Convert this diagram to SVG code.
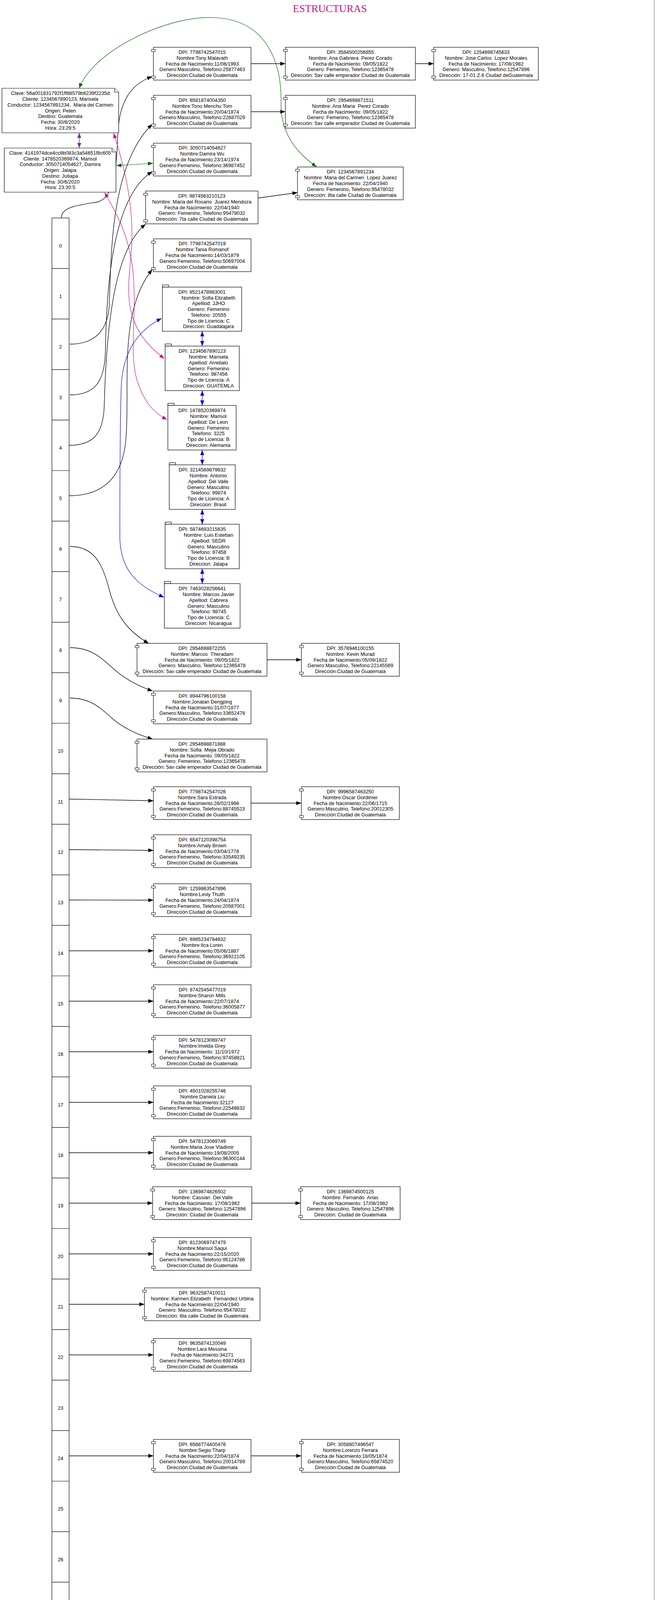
<svg xmlns="http://www.w3.org/2000/svg" width="1683" height="5350" viewBox="0 0 1683 5350">
<style>
.b{fill:#fff;stroke:#000;stroke-width:1.2}
.p{fill:#fff;stroke:#000;stroke-width:1}
.t{font-family:"Liberation Sans",Arial,sans-serif;font-size:12.8px;text-anchor:middle;fill:#000}
.ix{font-family:"Liberation Sans",Arial,sans-serif;font-size:12.8px;text-anchor:middle;fill:#000}
.e{fill:none;stroke:#000;stroke-width:1.3}
.ek{fill:none;stroke:#000;stroke-width:1.3;marker-end:url(#ak)}
.eb{fill:none;stroke:#0000cd;stroke-width:1.2;marker-start:url(#ab);marker-end:url(#ab)}
.ep{fill:none;stroke:#c71585;stroke-width:1.2;marker-start:url(#ap);marker-end:url(#ap)}
.eg{fill:none;stroke:#006400;stroke-width:1.2;marker-start:url(#ag);marker-end:url(#ag)}
.ev{fill:none;stroke:#7030a0;stroke-width:1.4;marker-start:url(#av);marker-end:url(#av)}
.sep{stroke:#000;stroke-width:1.2}
</style>
<defs>
<marker id="ak" viewBox="0 0 13 10" refX="13" refY="5" markerWidth="13" markerHeight="10" markerUnits="userSpaceOnUse" orient="auto-start-reverse"><path d="M0,0L13,5L0,10Z" fill="#000"/></marker>
<marker id="ab" viewBox="0 0 13 10" refX="13" refY="5" markerWidth="13" markerHeight="10" markerUnits="userSpaceOnUse" orient="auto-start-reverse"><path d="M0,0L13,5L0,10Z" fill="#0000cd"/></marker>
<marker id="ap" viewBox="0 0 13 10" refX="13" refY="5" markerWidth="13" markerHeight="10" markerUnits="userSpaceOnUse" orient="auto-start-reverse"><path d="M0,0L13,5L0,10Z" fill="#c71585"/></marker>
<marker id="ag" viewBox="0 0 13 10" refX="13" refY="5" markerWidth="13" markerHeight="10" markerUnits="userSpaceOnUse" orient="auto-start-reverse"><path d="M0,0L13,5L0,10Z" fill="#006400"/></marker>
<marker id="av" viewBox="0 0 13 10" refX="13" refY="5" markerWidth="13" markerHeight="10" markerUnits="userSpaceOnUse" orient="auto-start-reverse"><path d="M0,0L13,5L0,10Z" fill="#7030a0"/></marker>
</defs>
<rect x="0" y="0" width="1683" height="5350" fill="#fff"/>
<line x1="1676" y1="0" x2="1676" y2="5350" stroke="#555" stroke-width="1"/>
<text x="845" y="31" font-family="Liberation Serif, Times New Roman, serif" font-size="26.7" fill="#c71585" text-anchor="middle">ESTRUCTURAS</text>

<g id="edges">
<path class="ek" d="M643,163 L731,163"/>
<path class="ek" d="M1064,163 L1111,163"/>
<path class="ek" d="M643,286 L731,286"/>
<path class="ek" d="M661,507 L762,493"/>
<path class="ek" d="M684,1689 L772,1689"/>
<path class="ek" d="M643,2056 L772,2056"/>
<path class="ek" d="M645,3080 L770,3080"/>
<path class="ek" d="M643,3727 L772,3727"/>
<path class="ek" d="M642,4503 L772,4503"/>
<path class="ek" d="M1023,4503 L1119,4503"/>
<path class="ek" d="M1371,4503 L1426,4503"/>
<path class="ek" d="M157,558 C157,530 200,525 245,518 C295,510 298,430 302,340 C306,260 335,215 390,196"/>
<path class="ek" d="M179,881 C240,881 276,850 280,780 C285,640 285,420 390,318"/>
<path class="ek" d="M179,1011 C245,1011 268,975 270,900 C273,700 295,500 390,439"/>
<path class="ek" d="M177,1140 C240,1140 264,1110 267,1040 C272,850 290,640 373,574"/>
<path class="ek" d="M177,1269 C262,1269 312,1225 322,1130 C335,1000 300,800 390,690"/>
<path class="ek" d="M179,1399 C240,1399 262,1440 280,1510 C296,1572 325,1615 381,1647"/>
<path class="ek" d="M179,1658 C230,1658 255,1680 285,1707 C315,1735 350,1755 391,1769"/>
<path class="ek" d="M179,1787 C230,1787 255,1810 285,1837 C315,1864 350,1880 391,1892"/>
<path class="ek" d="M177,2045.5 L393,2050"/>
<path class="ek" d="M177,2175 L393,2177"/>
<path class="ek" d="M177,2304 L393,2304.5"/>
<path class="ek" d="M177,2434 L393,2434"/>
<path class="ek" d="M177,2563 L393,2563"/>
<path class="ek" d="M177,2692.5 L393,2692.5"/>
<path class="ek" d="M177,2822 L393,2822"/>
<path class="ek" d="M177,2951 L393,2951"/>
<path class="ek" d="M177,3080 L391,3080"/>
<path class="ek" d="M177,3210 L393,3210"/>
<path class="ek" d="M177,3339 L370,3339"/>
<path class="ek" d="M177,3468.5 L393,3468.5"/>
<path class="ek" d="M177,3727 L393,3727"/>
<path class="ek" d="M177,4244.5 L393,4244"/>
<path class="ek" d="M177,4503 L392,4503"/>
<path class="ek" d="M177,4633 L393,4633"/>
<path class="ek" d="M177,4762 L393,4762"/>
<path class="ek" d="M177,5150 L393,5150"/>
<path class="eg" d="M203,226 C235,135 420,40 547,45 C690,50 722,170 720,265 C718,345 765,395 811,427"/>
<path class="eg" d="M298,424 L392,418"/>
<path class="ev" d="M203,340 L203,379"/>
<path class="ep" d="M291,341 C330,460 345,560 335,660 C325,760 318,840 421,918"/>
<path class="ep" d="M268,493 C295,540 330,600 340,690 C352,800 330,900 350,970 C368,1030 395,1058 428,1074"/>
<path class="eb" d="M414,815 C360,842 318,890 311,980 C308,1050 307,1200 307,1380 C310,1450 340,1495 420,1529"/>
<path class="eb" d="M518,848 L518,886"/>
<path class="eb" d="M518,1000 L518,1038"/>
<path class="eb" d="M518,1152 L518,1190"/>
<path class="eb" d="M518,1304 L518,1342"/>
<path class="eb" d="M518,1456 L518,1494"/>
</g>

<g id="tabla">
<rect class="b" x="133" y="558" width="44" height="5286"/>
<line class="sep" x1="133" y1="687.35" x2="177" y2="687.35"/>
<line class="sep" x1="133" y1="816.7" x2="177" y2="816.7"/>
<line class="sep" x1="133" y1="946.05" x2="177" y2="946.05"/>
<line class="sep" x1="133" y1="1075.4" x2="177" y2="1075.4"/>
<line class="sep" x1="133" y1="1204.75" x2="177" y2="1204.75"/>
<line class="sep" x1="133" y1="1334.1" x2="177" y2="1334.1"/>
<line class="sep" x1="133" y1="1463.45" x2="177" y2="1463.45"/>
<line class="sep" x1="133" y1="1592.8" x2="177" y2="1592.8"/>
<line class="sep" x1="133" y1="1722.15" x2="177" y2="1722.15"/>
<line class="sep" x1="133" y1="1851.5" x2="177" y2="1851.5"/>
<line class="sep" x1="133" y1="1980.85" x2="177" y2="1980.85"/>
<line class="sep" x1="133" y1="2110.2" x2="177" y2="2110.2"/>
<line class="sep" x1="133" y1="2239.55" x2="177" y2="2239.55"/>
<line class="sep" x1="133" y1="2368.9" x2="177" y2="2368.9"/>
<line class="sep" x1="133" y1="2498.25" x2="177" y2="2498.25"/>
<line class="sep" x1="133" y1="2627.6" x2="177" y2="2627.6"/>
<line class="sep" x1="133" y1="2756.95" x2="177" y2="2756.95"/>
<line class="sep" x1="133" y1="2886.3" x2="177" y2="2886.3"/>
<line class="sep" x1="133" y1="3015.65" x2="177" y2="3015.65"/>
<line class="sep" x1="133" y1="3145" x2="177" y2="3145"/>
<line class="sep" x1="133" y1="3274.35" x2="177" y2="3274.35"/>
<line class="sep" x1="133" y1="3403.7" x2="177" y2="3403.7"/>
<line class="sep" x1="133" y1="3533.05" x2="177" y2="3533.05"/>
<line class="sep" x1="133" y1="3662.4" x2="177" y2="3662.4"/>
<line class="sep" x1="133" y1="3791.75" x2="177" y2="3791.75"/>
<line class="sep" x1="133" y1="3921.1" x2="177" y2="3921.1"/>
<line class="sep" x1="133" y1="4050.45" x2="177" y2="4050.45"/>
<line class="sep" x1="133" y1="4179.8" x2="177" y2="4179.8"/>
<line class="sep" x1="133" y1="4309.15" x2="177" y2="4309.15"/>
<line class="sep" x1="133" y1="4438.5" x2="177" y2="4438.5"/>
<line class="sep" x1="133" y1="4567.85" x2="177" y2="4567.85"/>
<line class="sep" x1="133" y1="4697.2" x2="177" y2="4697.2"/>
<line class="sep" x1="133" y1="4826.55" x2="177" y2="4826.55"/>
<line class="sep" x1="133" y1="4955.9" x2="177" y2="4955.9"/>
<line class="sep" x1="133" y1="5085.25" x2="177" y2="5085.25"/>
<line class="sep" x1="133" y1="5214.6" x2="177" y2="5214.6"/>
<text class="ix" x="155" y="633.7">0</text>
<text class="ix" x="155" y="763.0">1</text>
<text class="ix" x="155" y="892.4">2</text>
<text class="ix" x="155" y="1021.7">3</text>
<text class="ix" x="155" y="1151.1">4</text>
<text class="ix" x="155" y="1280.4">5</text>
<text class="ix" x="155" y="1409.8">6</text>
<text class="ix" x="155" y="1539.1">7</text>
<text class="ix" x="155" y="1668.5">8</text>
<text class="ix" x="155" y="1797.8">9</text>
<text class="ix" x="155" y="1927.2">10</text>
<text class="ix" x="155" y="2056.5">11</text>
<text class="ix" x="155" y="2185.9">12</text>
<text class="ix" x="155" y="2315.2">13</text>
<text class="ix" x="155" y="2444.6">14</text>
<text class="ix" x="155" y="2573.9">15</text>
<text class="ix" x="155" y="2703.3">16</text>
<text class="ix" x="155" y="2832.6">17</text>
<text class="ix" x="155" y="2962.0">18</text>
<text class="ix" x="155" y="3091.3">19</text>
<text class="ix" x="155" y="3220.7">20</text>
<text class="ix" x="155" y="3350.0">21</text>
<text class="ix" x="155" y="3479.4">22</text>
<text class="ix" x="155" y="3608.7">23</text>
<text class="ix" x="155" y="3738.1">24</text>
<text class="ix" x="155" y="3867.4">25</text>
<text class="ix" x="155" y="3996.8">26</text>
<text class="ix" x="155" y="4126.1">27</text>
<text class="ix" x="155" y="4255.5">28</text>
<text class="ix" x="155" y="4384.8">29</text>
<text class="ix" x="155" y="4514.2">30</text>
<text class="ix" x="155" y="4643.5">31</text>
<text class="ix" x="155" y="4772.9">32</text>
<text class="ix" x="155" y="4902.2">33</text>
<text class="ix" x="155" y="5031.6">34</text>
<text class="ix" x="155" y="5160.9">35</text>
<text class="ix" x="155" y="5290.3">36</text>
</g>

<g id="clave1"><path class="b" d="M5,226 L294,226 L304,236 L304,340 L5,340 Z"/><path class="b" d="M294,226 L294,236 L304,236"/><text class="t" xml:space="preserve" y="243.35"><tspan x="154.5">Clave: 56a001831792f1ff88579b6239f2235d</tspan><tspan x="154.5" dy="14.75">Cliente: 1234567890123, Marisela</tspan><tspan x="154.5" dy="14.75">Conductor: 1234567891234,  Maria del Carmen</tspan><tspan x="154.5" dy="14.75">Origen: Peten</tspan><tspan x="154.5" dy="14.75">Destino: Guatemala</tspan><tspan x="154.5" dy="14.75">Fecha: 30/6/2020</tspan><tspan x="154.5" dy="14.75">Hora: 23:29:5</tspan></text></g>
<g id="clave2"><path class="b" d="M11,379 L287,379 L297,389 L297,492 L11,492 Z"/><path class="b" d="M287,379 L287,389 L297,389"/><text class="t" xml:space="preserve" y="395.85"><tspan x="154">Clave: 4141974dce4cc8b083c3a54651f8c605</tspan><tspan x="154" dy="14.75">Cliente: 1478520369874, Marisol</tspan><tspan x="154" dy="14.75">Conductor: 3050714054627, Damira</tspan><tspan x="154" dy="14.75">Origen: Jalapa</tspan><tspan x="154" dy="14.75">Destino: Jutiapa</tspan><tspan x="154" dy="14.75">Fecha: 30/6/2020</tspan><tspan x="154" dy="14.75">Hora: 23:30:5</tspan></text></g>

<g id="n_tony"><rect class="b" x="393" y="121" width="250" height="84"/><rect class="p" x="388" y="126.7" width="10" height="5.3"/><rect class="p" x="388" y="194.7" width="10" height="5.3"/><text class="t" xml:space="preserve" y="137.9"><tspan x="518">DPI: 7798742547015</tspan><tspan x="518" dy="14.85">Nombre:Tony Malavath</tspan><tspan x="518" dy="14.85">Fecha de Nacimiento:11/06/1993</tspan><tspan x="518" dy="14.85">Genero:Masculino, Telefono:25877463</tspan><tspan x="518" dy="14.85">Dirección:Ciudad de Guatemala</tspan></text></g>
<g id="n_anagab"><rect class="b" x="731" y="121" width="333" height="84"/><rect class="p" x="726" y="126.7" width="10" height="5.3"/><rect class="p" x="726" y="194.7" width="10" height="5.3"/><text class="t" xml:space="preserve" y="137.9"><tspan x="897.5">DPI: 3584500256855</tspan><tspan x="897.5" dy="14.85">Nombre: Ana Gabriera  Perez Corado</tspan><tspan x="897.5" dy="14.85">Fecha de Nacimiento: 09/05/1822</tspan><tspan x="897.5" dy="14.85">Genero: Femenino, Telefono:12365478</tspan><tspan x="897.5" dy="14.85">Dirección: 5av calle emperador Ciudad de Guatemala</tspan></text></g>
<g id="n_josecarlos"><rect class="b" x="1111" y="121" width="268" height="84"/><rect class="p" x="1106" y="126.7" width="10" height="5.3"/><rect class="p" x="1106" y="194.7" width="10" height="5.3"/><text class="t" xml:space="preserve" y="137.9"><tspan x="1245">DPI: 1254698745633</tspan><tspan x="1245" dy="14.85">Nombre: Jose Carlos  Lopez Morales</tspan><tspan x="1245" dy="14.85">Fecha de Nacimiento: 17/08/1982</tspan><tspan x="1245" dy="14.85">Genero: Masculino, Telefono:12547896</tspan><tspan x="1245" dy="14.85">Dirección: 17-01 Z.6 Ciudad deGuatemala</tspan></text></g>
<g id="n_tono"><rect class="b" x="393" y="244" width="250" height="84"/><rect class="p" x="388" y="249.7" width="10" height="5.3"/><rect class="p" x="388" y="317.7" width="10" height="5.3"/><text class="t" xml:space="preserve" y="260.9"><tspan x="518">DPI: 6581874004350</tspan><tspan x="518" dy="14.85">Nombre:Tono Menchu Tom</tspan><tspan x="518" dy="14.85">Fecha de Nacimiento:20/04/1874</tspan><tspan x="518" dy="14.85">Genero:Masculino, Telefono:22887029</tspan><tspan x="518" dy="14.85">Dirección:Ciudad de Guatemala</tspan></text></g>
<g id="n_anamaria"><rect class="b" x="731" y="244" width="333" height="84"/><rect class="p" x="726" y="249.7" width="10" height="5.3"/><rect class="p" x="726" y="317.7" width="10" height="5.3"/><text class="t" xml:space="preserve" y="260.9"><tspan x="897.5">DPI: 2954698871511</tspan><tspan x="897.5" dy="14.85">Nombre: Ana Maria  Perez Corado</tspan><tspan x="897.5" dy="14.85">Fecha de Nacimiento: 09/05/1822</tspan><tspan x="897.5" dy="14.85">Genero: Femenino, Telefono:12365478</tspan><tspan x="897.5" dy="14.85">Dirección: 5av calle emperador Ciudad de Guatemala</tspan></text></g>
<g id="n_damira"><rect class="b" x="393" y="366.5" width="250" height="84"/><rect class="p" x="388" y="372.2" width="10" height="5.3"/><rect class="p" x="388" y="440.2" width="10" height="5.3"/><text class="t" xml:space="preserve" y="383.4"><tspan x="518">DPI: 3050714054627</tspan><tspan x="518" dy="14.85">Nombre:Damira Wu</tspan><tspan x="518" dy="14.85">Fecha de Nacimiento:23/14/1974</tspan><tspan x="518" dy="14.85">Genero:Femenino, Telefono:36987452</tspan><tspan x="518" dy="14.85">Dirección:Ciudad de Guatemala</tspan></text></g>
<g id="n_mcarmen"><rect class="b" x="762" y="427.5" width="271" height="84"/><rect class="p" x="757" y="433.2" width="10" height="5.3"/><rect class="p" x="757" y="501.2" width="10" height="5.3"/><text class="t" xml:space="preserve" y="444.4"><tspan x="897.5">DPI: 1234567891234</tspan><tspan x="897.5" dy="14.85">Nombre: Maria del Carmen  Lopez Juarez</tspan><tspan x="897.5" dy="14.85">Fecha de Nacimiento: 22/04/1940</tspan><tspan x="897.5" dy="14.85">Genero: Femenino, Telefono:95478032</tspan><tspan x="897.5" dy="14.85">Dirección: 8ta calle Ciudad de Guatemala</tspan></text></g>
<g id="n_rosario"><rect class="b" x="373" y="489" width="288" height="84"/><rect class="p" x="368" y="494.7" width="10" height="5.3"/><rect class="p" x="368" y="562.7" width="10" height="5.3"/><text class="t" xml:space="preserve" y="505.9"><tspan x="517">DPI: 9874563210123</tspan><tspan x="517" dy="14.85">Nombre: Maria del Rosario  Juarez Mendoza</tspan><tspan x="517" dy="14.85">Fecha de Nacimiento: 22/04/1940</tspan><tspan x="517" dy="14.85">Genero: Femenino, Telefono:95478032</tspan><tspan x="517" dy="14.85">Dirección: 7ta calle Ciudad de Guatemala</tspan></text></g>
<g id="n_tania"><rect class="b" x="393" y="611.5" width="250" height="84"/><rect class="p" x="388" y="617.2" width="10" height="5.3"/><rect class="p" x="388" y="685.2" width="10" height="5.3"/><text class="t" xml:space="preserve" y="628.4"><tspan x="518">DPI: 7798742547019</tspan><tspan x="518" dy="14.85">Nombre:Tania Romanof</tspan><tspan x="518" dy="14.85">Fecha de Nacimiento:14/03/1879</tspan><tspan x="518" dy="14.85">Genero:Femenino, Telefono:50697004</tspan><tspan x="518" dy="14.85">Dirección:Ciudad de Guatemala</tspan></text></g>

<g id="c_sofia"><rect class="b" x="416" y="729.5" width="16" height="5.5"/><rect class="b" x="416" y="735" width="203" height="113"/><text class="t" xml:space="preserve" y="751.85"><tspan x="517.5">DPI: 8521478963001</tspan><tspan x="534" dy="14.75">Nombre: Sofia Elizabeth</tspan><tspan x="534" dy="14.75">Apelliod: JJHO</tspan><tspan x="534" dy="14.75">Genero: Femenino</tspan><tspan x="534" dy="14.75">Telefono: 20555</tspan><tspan x="534" dy="14.75">Tipo de Licencia: C</tspan><tspan x="534" dy="14.75">Direccion: Guadalajara</tspan></text></g>
<g id="c_marisela"><rect class="b" x="423" y="880.5" width="16" height="5.5"/><rect class="b" x="423" y="886" width="190" height="114"/><text class="t" xml:space="preserve" y="903.35"><tspan x="518">DPI: 1234567890123</tspan><tspan x="534" dy="14.75">Nombre: Marisela</tspan><tspan x="534" dy="14.75">Apelliod: Arrebalo</tspan><tspan x="534" dy="14.75">Genero: Femenino</tspan><tspan x="534" dy="14.75">Telefono: 987456</tspan><tspan x="534" dy="14.75">Tipo de Licencia: A</tspan><tspan x="534" dy="14.75">Direccion: GUATEMLA</tspan></text></g>
<g id="c_marisol"><rect class="b" x="430" y="1032.5" width="16" height="5.5"/><rect class="b" x="430" y="1038" width="175" height="114"/><text class="t" xml:space="preserve" y="1055.35"><tspan x="517.5">DPI: 1478520369874</tspan><tspan x="533.5" dy="14.75">Nombre: Marisol</tspan><tspan x="533.5" dy="14.75">Apelliod: De Leon</tspan><tspan x="533.5" dy="14.75">Genero: Femenino</tspan><tspan x="533.5" dy="14.75">Telefono: 3225</tspan><tspan x="533.5" dy="14.75">Tipo de Licencia: B</tspan><tspan x="533.5" dy="14.75">Direccion: Alemania</tspan></text></g>
<g id="c_antonio"><rect class="b" x="433.5" y="1184.5" width="16" height="5.5"/><rect class="b" x="433.5" y="1190" width="169" height="114"/><text class="t" xml:space="preserve" y="1207.35"><tspan x="518">DPI: 3214569879632</tspan><tspan x="533.5" dy="14.75">Nombre: Antonio</tspan><tspan x="533.5" dy="14.75">Apelliod: Del Valle</tspan><tspan x="533.5" dy="14.75">Genero: Masculino</tspan><tspan x="533.5" dy="14.75">Telefono: 99874</tspan><tspan x="533.5" dy="14.75">Tipo de Licencia: A</tspan><tspan x="533.5" dy="14.75">Direccion: Brasil</tspan></text></g>
<g id="c_luisesteban"><rect class="b" x="423" y="1336.5" width="16" height="5.5"/><rect class="b" x="423" y="1342" width="190" height="114"/><text class="t" xml:space="preserve" y="1359.35"><tspan x="518">DPI: 5874693215635</tspan><tspan x="534" dy="14.75">Nombre: Luis Esteban</tspan><tspan x="534" dy="14.75">Apelliod: SEDR</tspan><tspan x="534" dy="14.75">Genero: Masculino</tspan><tspan x="534" dy="14.75">Telefono: 87458</tspan><tspan x="534" dy="14.75">Tipo de Licencia: B</tspan><tspan x="534" dy="14.75">Direccion: Jalapa</tspan></text></g>
<g id="c_marcosjavier"><rect class="b" x="421" y="1488.5" width="16" height="5.5"/><rect class="b" x="421" y="1494" width="194" height="114"/><text class="t" xml:space="preserve" y="1511.35"><tspan x="518">DPI: 7463028256641</tspan><tspan x="534" dy="14.75">Nombre: Marcos Javier</tspan><tspan x="534" dy="14.75">Apelliod: Cabrera</tspan><tspan x="534" dy="14.75">Genero: Masculino</tspan><tspan x="534" dy="14.75">Telefono: 98745</tspan><tspan x="534" dy="14.75">Tipo de Licencia: C</tspan><tspan x="534" dy="14.75">Direccion: Nicaragua</tspan></text></g>

<g id="n_theradam"><rect class="b" x="351" y="1647" width="333" height="84"/><rect class="p" x="346" y="1652.7" width="10" height="5.3"/><rect class="p" x="346" y="1720.7" width="10" height="5.3"/><text class="t" xml:space="preserve" y="1663.9"><tspan x="517.5">DPI: 2954698872255</tspan><tspan x="517.5" dy="14.85">Nombre: Marcos  Theradam</tspan><tspan x="517.5" dy="14.85">Fecha de Nacimiento: 09/05/1822</tspan><tspan x="517.5" dy="14.85">Genero: Masculino, Telefono:12365478</tspan><tspan x="517.5" dy="14.85">Dirección: 5av calle emperador Ciudad de Guatemala</tspan></text></g>
<g id="n_kevin"><rect class="b" x="772" y="1647" width="251" height="84"/><rect class="p" x="767" y="1652.7" width="10" height="5.3"/><rect class="p" x="767" y="1720.7" width="10" height="5.3"/><text class="t" xml:space="preserve" y="1663.9"><tspan x="897.5">DPI: 3578946100155</tspan><tspan x="897.5" dy="14.85">Nombre: Kevin Murad</tspan><tspan x="897.5" dy="14.85">Fecha de Nacimiento:05/09/1822</tspan><tspan x="897.5" dy="14.85">Genero:Masculino, Telefono:22145569</tspan><tspan x="897.5" dy="14.85">Dirección:Ciudad de Guatemala</tspan></text></g>
<g id="n_jonatan"><rect class="b" x="393" y="1769" width="250" height="84"/><rect class="p" x="388" y="1774.7" width="10" height="5.3"/><rect class="p" x="388" y="1842.7" width="10" height="5.3"/><text class="t" xml:space="preserve" y="1785.9"><tspan x="518">DPI: 8944796100158</tspan><tspan x="518" dy="14.85">Nombre:Jonatan Dengping</tspan><tspan x="518" dy="14.85">Fecha de Nacimiento:31/07/1877</tspan><tspan x="518" dy="14.85">Genero:Masculino, Telefono:33652478</tspan><tspan x="518" dy="14.85">Dirección:Ciudad de Guatemala</tspan></text></g>
<g id="n_sofiamejia"><rect class="b" x="351" y="1892" width="333" height="84"/><rect class="p" x="346" y="1897.7" width="10" height="5.3"/><rect class="p" x="346" y="1965.7" width="10" height="5.3"/><text class="t" xml:space="preserve" y="1908.9"><tspan x="517.5">DPI: 2954698871888</tspan><tspan x="517.5" dy="14.85">Nombre: Sofia  Mejia Obrado</tspan><tspan x="517.5" dy="14.85">Fecha de Nacimiento: 09/05/1822</tspan><tspan x="517.5" dy="14.85">Genero: Femenino, Telefono:12365478</tspan><tspan x="517.5" dy="14.85">Dirección: 5av calle emperador Ciudad de Guatemala</tspan></text></g>
<g id="n_sara"><rect class="b" x="393" y="2014" width="250" height="84"/><rect class="p" x="388" y="2019.7" width="10" height="5.3"/><rect class="p" x="388" y="2087.7" width="10" height="5.3"/><text class="t" xml:space="preserve" y="2030.9"><tspan x="518">DPI: 7798742547026</tspan><tspan x="518" dy="14.85">Nombre:Sara Estrada</tspan><tspan x="518" dy="14.85">Fecha de Nacimiento:28/02/1998</tspan><tspan x="518" dy="14.85">Genero:Femenino, Telefono:88745523</tspan><tspan x="518" dy="14.85">Dirección:Ciudad de Guatemala</tspan></text></g>
<g id="n_oscar"><rect class="b" x="772" y="2014" width="251" height="84"/><rect class="p" x="767" y="2019.7" width="10" height="5.3"/><rect class="p" x="767" y="2087.7" width="10" height="5.3"/><text class="t" xml:space="preserve" y="2030.9"><tspan x="897.5">DPI: 9996587463250</tspan><tspan x="897.5" dy="14.85">Nombre:Oscar Gordimer</tspan><tspan x="897.5" dy="14.85">Fecha de Nacimiento:22/06/1715</tspan><tspan x="897.5" dy="14.85">Genero:Masculino, Telefono:20012305</tspan><tspan x="897.5" dy="14.85">Dirección:Ciudad de Guatemala</tspan></text></g>
<g id="n_amaly"><rect class="b" x="393" y="2137" width="250" height="84"/><rect class="p" x="388" y="2142.7" width="10" height="5.3"/><rect class="p" x="388" y="2210.7" width="10" height="5.3"/><text class="t" xml:space="preserve" y="2153.9"><tspan x="518">DPI: 6547120398754</tspan><tspan x="518" dy="14.85">Nombre:Amaly Brown</tspan><tspan x="518" dy="14.85">Fecha de Nacimiento:03/04/1778</tspan><tspan x="518" dy="14.85">Genero:Femenino, Telefono:33549235</tspan><tspan x="518" dy="14.85">Dirección:Ciudad de Guatemala</tspan></text></g>
<g id="n_lesly"><rect class="b" x="393" y="2262.5" width="250" height="84"/><rect class="p" x="388" y="2268.2" width="10" height="5.3"/><rect class="p" x="388" y="2336.2" width="10" height="5.3"/><text class="t" xml:space="preserve" y="2279.4"><tspan x="518">DPI: 1259863547896</tspan><tspan x="518" dy="14.85">Nombre:Lesly Thuth</tspan><tspan x="518" dy="14.85">Fecha de Nacimiento:24/04/1874</tspan><tspan x="518" dy="14.85">Genero:Femenino, Telefono:20587001</tspan><tspan x="518" dy="14.85">Dirección:Ciudad de Guatemala</tspan></text></g>
<g id="n_ilca"><rect class="b" x="393" y="2392" width="250" height="84"/><rect class="p" x="388" y="2397.7" width="10" height="5.3"/><rect class="p" x="388" y="2465.7" width="10" height="5.3"/><text class="t" xml:space="preserve" y="2408.9"><tspan x="518">DPI: 6985234784632</tspan><tspan x="518" dy="14.85">Nombre:Ilca Loren</tspan><tspan x="518" dy="14.85">Fecha de Nacimiento:05/06/1887</tspan><tspan x="518" dy="14.85">Genero:Femenino, Telefono:36922105</tspan><tspan x="518" dy="14.85">Dirección:Ciudad de Guatemala</tspan></text></g>
<g id="n_sharon"><rect class="b" x="393" y="2521" width="250" height="84"/><rect class="p" x="388" y="2526.7" width="10" height="5.3"/><rect class="p" x="388" y="2594.7" width="10" height="5.3"/><text class="t" xml:space="preserve" y="2537.9"><tspan x="518">DPI: 8742545477019</tspan><tspan x="518" dy="14.85">Nombre:Sharon Mills</tspan><tspan x="518" dy="14.85">Fecha de Nacimiento:22/07/1874</tspan><tspan x="518" dy="14.85">Genero:Femenino, Telefono:36005877</tspan><tspan x="518" dy="14.85">Dirección:Ciudad de Guatemala</tspan></text></g>
<g id="n_imelda"><rect class="b" x="393" y="2650.5" width="250" height="84"/><rect class="p" x="388" y="2656.2" width="10" height="5.3"/><rect class="p" x="388" y="2724.2" width="10" height="5.3"/><text class="t" xml:space="preserve" y="2667.4"><tspan x="518">DPI: 5478123069747</tspan><tspan x="518" dy="14.85">Nombre:Imelda Grey</tspan><tspan x="518" dy="14.85">Fecha de Nacimiento: 11/10/1972</tspan><tspan x="518" dy="14.85">Genero:Femenino, Telefono:97458821</tspan><tspan x="518" dy="14.85">Dirección:Ciudad de Guatemala</tspan></text></g>
<g id="n_daniela"><rect class="b" x="393" y="2780" width="250" height="84"/><rect class="p" x="388" y="2785.7" width="10" height="5.3"/><rect class="p" x="388" y="2853.7" width="10" height="5.3"/><text class="t" xml:space="preserve" y="2796.9"><tspan x="518">DPI: 4501028255746</tspan><tspan x="518" dy="14.85">Nombre:Daniela Liu</tspan><tspan x="518" dy="14.85">Fecha de Nacimiento:32127</tspan><tspan x="518" dy="14.85">Genero:Femenino, Telefono:22546632</tspan><tspan x="518" dy="14.85">Dirección:Ciudad de Guatemala</tspan></text></g>
<g id="n_mariajose"><rect class="b" x="393" y="2909" width="250" height="84"/><rect class="p" x="388" y="2914.7" width="10" height="5.3"/><rect class="p" x="388" y="2982.7" width="10" height="5.3"/><text class="t" xml:space="preserve" y="2925.9"><tspan x="518">DPI: 5478123069749</tspan><tspan x="518" dy="14.85">Nombre:Maria Jose Vladimir</tspan><tspan x="518" dy="14.85">Fecha de Nacimiento:19/08/2005</tspan><tspan x="518" dy="14.85">Genero:Femenino, Telefono:96300144</tspan><tspan x="518" dy="14.85">Dirección:Ciudad de Guatemala</tspan></text></g>
<g id="n_cassian"><rect class="b" x="391" y="3038" width="254" height="84"/><rect class="p" x="386" y="3043.7" width="10" height="5.3"/><rect class="p" x="386" y="3111.7" width="10" height="5.3"/><text class="t" xml:space="preserve" y="3054.9"><tspan x="518">DPI: 1369874826502</tspan><tspan x="518" dy="14.85">Nombre: Cassian  Del Valle</tspan><tspan x="518" dy="14.85">Fecha de Nacimiento: 17/08/1982</tspan><tspan x="518" dy="14.85">Genero: Masculino, Telefono:12547896</tspan><tspan x="518" dy="14.85">Dirección: Ciudad de Guatemala</tspan></text></g>
<g id="n_fernando"><rect class="b" x="770" y="3038" width="255" height="84"/><rect class="p" x="765" y="3043.7" width="10" height="5.3"/><rect class="p" x="765" y="3111.7" width="10" height="5.3"/><text class="t" xml:space="preserve" y="3054.9"><tspan x="897.5">DPI: 1369874500125</tspan><tspan x="897.5" dy="14.85">Nombre: Fernando  Arias</tspan><tspan x="897.5" dy="14.85">Fecha de Nacimiento: 17/08/1982</tspan><tspan x="897.5" dy="14.85">Genero: Masculino, Telefono:12547896</tspan><tspan x="897.5" dy="14.85">Dirección: Ciudad de Guatemala</tspan></text></g>
<g id="n_marisolsaqui"><rect class="b" x="393" y="3168" width="250" height="84"/><rect class="p" x="388" y="3173.7" width="10" height="5.3"/><rect class="p" x="388" y="3241.7" width="10" height="5.3"/><text class="t" xml:space="preserve" y="3184.9"><tspan x="518">DPI: 8123069747479</tspan><tspan x="518" dy="14.85">Nombre:Marisol Saqui</tspan><tspan x="518" dy="14.85">Fecha de Nacimiento:22/15/2020</tspan><tspan x="518" dy="14.85">Genero:Femenino, Telefono:95124786</tspan><tspan x="518" dy="14.85">Dirección:Ciudad de Guatemala</tspan></text></g>
<g id="n_karmen"><rect class="b" x="370" y="3297" width="296" height="84"/><rect class="p" x="365" y="3302.7" width="10" height="5.3"/><rect class="p" x="365" y="3370.7" width="10" height="5.3"/><text class="t" xml:space="preserve" y="3313.9"><tspan x="518">DPI: 9632587410011</tspan><tspan x="518" dy="14.85">Nombre: Karmen Elizabeth  Fernandez Urbina</tspan><tspan x="518" dy="14.85">Fecha de Nacimiento:22/04/1940</tspan><tspan x="518" dy="14.85">Genero: Masculino, Telefono:95478032</tspan><tspan x="518" dy="14.85">Dirección: 6ta calle Ciudad de Guatemala</tspan></text></g>
<g id="n_lara"><rect class="b" x="393" y="3426.5" width="250" height="84"/><rect class="p" x="388" y="3432.2" width="10" height="5.3"/><rect class="p" x="388" y="3500.2" width="10" height="5.3"/><text class="t" xml:space="preserve" y="3443.4"><tspan x="518">DPI: 9635874120049</tspan><tspan x="518" dy="14.85">Nombre:Lara Messina</tspan><tspan x="518" dy="14.85">Fecha de Nacimiento:34271</tspan><tspan x="518" dy="14.85">Genero:Femenino, Telefono:69874563</tspan><tspan x="518" dy="14.85">Dirección:Ciudad de Guatemala</tspan></text></g>
<g id="n_segio"><rect class="b" x="393" y="3685" width="250" height="84"/><rect class="p" x="388" y="3690.7" width="10" height="5.3"/><rect class="p" x="388" y="3758.7" width="10" height="5.3"/><text class="t" xml:space="preserve" y="3701.9"><tspan x="518">DPI: 6588774400476</tspan><tspan x="518" dy="14.85">Nombre:Segio Tharp</tspan><tspan x="518" dy="14.85">Fecha de Nacimiento:22/04/1874</tspan><tspan x="518" dy="14.85">Genero:Masculino, Telefono:20014789</tspan><tspan x="518" dy="14.85">Dirección:Ciudad de Guatemala</tspan></text></g>
<g id="n_lorenzo"><rect class="b" x="772" y="3685" width="251" height="84"/><rect class="p" x="767" y="3690.7" width="10" height="5.3"/><rect class="p" x="767" y="3758.7" width="10" height="5.3"/><text class="t" xml:space="preserve" y="3701.9"><tspan x="897.5">DPI: 3058807496547</tspan><tspan x="897.5" dy="14.85">Nombre:Lorenzo Ferrara</tspan><tspan x="897.5" dy="14.85">Fecha de Nacimiento:18/05/1874</tspan><tspan x="897.5" dy="14.85">Genero:Masculino, Telefono:65874520</tspan><tspan x="897.5" dy="14.85">Dirección:Ciudad de Guatemala</tspan></text></g>
<g id="n_ruby"><rect class="b" x="393" y="4202" width="250" height="84"/><rect class="p" x="388" y="4207.7" width="10" height="5.3"/><rect class="p" x="388" y="4275.7" width="10" height="5.3"/><text class="t" xml:space="preserve" y="4218.9"><tspan x="518">DPI: 4784236987422</tspan><tspan x="518" dy="14.85">Nombre:Ruby Hall</tspan><tspan x="518" dy="14.85">Fecha de Nacimiento:22/05/1874</tspan><tspan x="518" dy="14.85">Genero:Femenino, Telefono:33258874</tspan><tspan x="518" dy="14.85">Dirección:Ciudad de Guatemala</tspan></text></g>
<g id="n_federico"><rect class="b" x="392" y="4461" width="250" height="84"/><rect class="p" x="387" y="4466.7" width="10" height="5.3"/><rect class="p" x="387" y="4534.7" width="10" height="5.3"/><text class="t" xml:space="preserve" y="4477.9"><tspan x="517">DPI: 4225415490191</tspan><tspan x="517" dy="14.85">Nombre:Federico Esposito</tspan><tspan x="517" dy="14.85">Fecha de Nacimiento:36110</tspan><tspan x="517" dy="14.85">Genero:Masculino, Telefono:33956475</tspan><tspan x="517" dy="14.85">Dirección:Ciudad de Guatemala</tspan></text></g>
<g id="n_luissamayoa"><rect class="b" x="772" y="4461" width="251" height="84"/><rect class="p" x="767" y="4466.7" width="10" height="5.3"/><rect class="p" x="767" y="4534.7" width="10" height="5.3"/><text class="t" xml:space="preserve" y="4477.9"><tspan x="897.5">DPI: 6581874004378</tspan><tspan x="897.5" dy="14.85">Nombre:Luis Samayoa</tspan><tspan x="897.5" dy="14.85">Fecha de Nacimiento: 15/04/1996</tspan><tspan x="897.5" dy="14.85">Genero:Masculino, Telefono:39700154</tspan><tspan x="897.5" dy="14.85">Dirección:Ciudad de Guatemala</tspan></text></g>
<g id="n_rudy"><rect class="b" x="1119" y="4461" width="252" height="84"/><rect class="p" x="1114" y="4466.7" width="10" height="5.3"/><rect class="p" x="1114" y="4534.7" width="10" height="5.3"/><text class="t" xml:space="preserve" y="4477.9"><tspan x="1245">DPI: 6547520398779</tspan><tspan x="1245" dy="14.85">Nombre:Rudy Rodriguez</tspan><tspan x="1245" dy="14.85">Fecha de Nacimiento:22/02/1982</tspan><tspan x="1245" dy="14.85">Genero:Masculino, Telefono:20563461</tspan><tspan x="1245" dy="14.85">Dirección:Ciudad de Guatemala</tspan></text></g>
<g id="n_norberto"><rect class="b" x="1426" y="4461" width="251" height="84"/><rect class="p" x="1421" y="4466.7" width="10" height="5.3"/><rect class="p" x="1421" y="4534.7" width="10" height="5.3"/><text class="t" xml:space="preserve" y="4477.9"><tspan x="1551.5">DPI: 8123069757479</tspan><tspan x="1551.5" dy="14.85">Nombre:Norberto Gonzales</tspan><tspan x="1551.5" dy="14.85">Fecha de Nacimiento:25/01/1983</tspan><tspan x="1551.5" dy="14.85">Genero:Masculino, Telefono:44556699</tspan><tspan x="1551.5" dy="14.85">Dirección:Ciudad de Guatemala</tspan></text></g>
<g id="n_igancio"><rect class="b" x="393" y="4591" width="250" height="84"/><rect class="p" x="388" y="4596.7" width="10" height="5.3"/><rect class="p" x="388" y="4664.7" width="10" height="5.3"/><text class="t" xml:space="preserve" y="4607.9"><tspan x="518">DPI: 3697448002546</tspan><tspan x="518" dy="14.85">Nombre:Igancio Russo</tspan><tspan x="518" dy="14.85">Fecha de Nacimiento:32045</tspan><tspan x="518" dy="14.85">Genero:Masculino, Telefono:22897461</tspan><tspan x="518" dy="14.85">Dirección:Ciudad de Guatemala</tspan></text></g>
<g id="n_armando"><rect class="b" x="393" y="4720" width="250" height="84"/><rect class="p" x="388" y="4725.7" width="10" height="5.3"/><rect class="p" x="388" y="4793.7" width="10" height="5.3"/><text class="t" xml:space="preserve" y="4736.9"><tspan x="518">DPI: 5547800125479</tspan><tspan x="518" dy="14.85">Nombre:Armando Mair</tspan><tspan x="518" dy="14.85">Fecha de Nacimiento:01/03/1744</tspan><tspan x="518" dy="14.85">Genero:Masculino, Telefono:39895025</tspan><tspan x="518" dy="14.85">Dirección:Ciudad de Guatemala</tspan></text></g>
<g id="n_laura"><rect class="b" x="393" y="5108" width="250" height="84"/><rect class="p" x="388" y="5113.7" width="10" height="5.3"/><rect class="p" x="388" y="5181.7" width="10" height="5.3"/><text class="t" xml:space="preserve" y="5124.9"><tspan x="518">DPI: 2003588749654</tspan><tspan x="518" dy="14.85">Nombre:Laura Caruso</tspan><tspan x="518" dy="14.85">Fecha de Nacimiento:22/01/1874</tspan><tspan x="518" dy="14.85">Genero:Femenino, Telefono:98088745</tspan><tspan x="518" dy="14.85">Dirección:Ciudad de Guatemala</tspan></text></g>
</svg>
